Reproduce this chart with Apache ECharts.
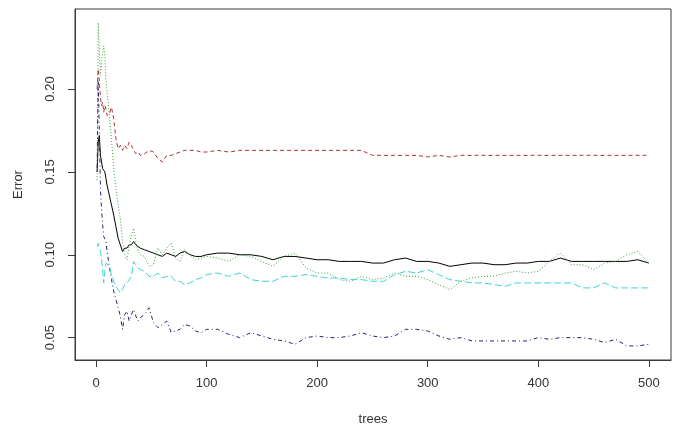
<!DOCTYPE html>
<html>
<head>
<meta charset="utf-8">
<title>Error vs trees</title>
<script src="https://cdn.jsdelivr.net/npm/echarts@6/dist/echarts.min.js"></script>
<style>
  html, body { margin: 0; padding: 0; background: #ffffff; }
  #errChart { width: 679px; height: 428px; }
</style>
</head>
<body>
<div id="errChart"></div>
<script>
  var trees = [1,2,3,4,5,6,7,8,9,10,12,14,16,18,20,22,24,26,28,30,32,34,36,38,40,
    44,48,52,56,60,64,68,72,76,80,85,90,95,100,
    110,120,130,140,150,160,170,180,190,200,210,220,230,240,250,260,270,280,290,300,
    310,320,330,340,350,360,370,380,390,400,410,420,430,440,450,460,470,480,490,500];

  // OOB error, black solid
  var oob = [0.150,0.168,0.172,0.160,0.156,0.152,0.152,0.150,0.146,0.142,0.136,0.130,0.124,0.117,0.110,0.106,0.102,0.104,0.104,0.106,0.106,0.108,0.106,0.105,0.104,
    0.103,0.102,0.101,0.100,0.099,0.101,0.100,0.099,0.101,0.102,0.100,0.099,0.099,0.100,
    0.101,0.101,0.100,0.100,0.099,0.097,0.099,0.099,0.098,0.097,0.097,0.096,0.096,0.096,0.095,0.095,0.097,0.098,0.096,0.096,
    0.095,0.093,0.094,0.095,0.095,0.094,0.094,0.095,0.095,0.096,0.096,0.098,0.096,0.096,0.096,0.096,0.096,0.096,0.097,0.095];

  // class 1, red dashed
  var cls1 = [0.200,0.212,0.205,0.195,0.190,0.192,0.186,0.190,0.188,0.184,0.185,0.189,0.182,0.170,0.164,0.166,0.163,0.166,0.164,0.168,0.166,0.163,0.161,0.162,0.160,
    0.161,0.163,0.162,0.158,0.156,0.160,0.160,0.161,0.162,0.163,0.163,0.163,0.162,0.162,
    0.163,0.162,0.163,0.163,0.163,0.163,0.163,0.163,0.163,0.163,0.163,0.163,0.163,0.163,0.160,0.160,0.160,0.160,0.160,0.159,
    0.160,0.159,0.160,0.160,0.160,0.160,0.160,0.160,0.160,0.160,0.160,0.160,0.160,0.160,0.160,0.160,0.160,0.160,0.160,0.160];

  // class 2, green dotted
  var cls2 = [0.145,0.240,0.225,0.208,0.215,0.222,0.226,0.220,0.205,0.198,0.185,0.170,0.152,0.140,0.130,0.122,0.108,0.100,0.097,0.105,0.112,0.116,0.108,0.102,0.100,
    0.099,0.093,0.094,0.104,0.100,0.104,0.107,0.098,0.096,0.103,0.100,0.097,0.098,0.099,
    0.098,0.096,0.100,0.099,0.096,0.093,0.099,0.101,0.092,0.089,0.089,0.085,0.084,0.087,0.085,0.086,0.089,0.087,0.087,0.085,
    0.082,0.079,0.084,0.086,0.087,0.087,0.089,0.090,0.089,0.090,0.096,0.101,0.094,0.094,0.091,0.095,0.096,0.100,0.102,0.095];

  // class 3, blue dot-dash
  var cls3 = [0.150,0.205,0.175,0.140,0.128,0.118,0.111,0.110,0.108,0.102,0.093,0.085,0.078,0.073,0.068,0.063,0.055,0.064,0.066,0.060,0.064,0.067,0.063,0.060,0.062,
    0.064,0.068,0.059,0.056,0.058,0.060,0.053,0.054,0.055,0.058,0.057,0.054,0.053,0.055,
    0.055,0.052,0.050,0.053,0.051,0.049,0.048,0.046,0.050,0.051,0.050,0.050,0.051,0.053,0.051,0.050,0.051,0.055,0.055,0.054,
    0.051,0.049,0.050,0.048,0.048,0.048,0.048,0.048,0.048,0.050,0.049,0.050,0.050,0.050,0.049,0.047,0.049,0.045,0.045,0.046];

  // class 4, cyan long dash
  var cls4 = [0.105,0.107,0.107,0.102,0.098,0.097,0.083,0.090,0.095,0.094,0.093,0.088,0.084,0.081,0.079,0.077,0.079,0.082,0.083,0.085,0.087,0.096,0.094,0.092,0.091,
    0.090,0.087,0.087,0.089,0.086,0.087,0.087,0.084,0.084,0.082,0.083,0.085,0.086,0.088,
    0.089,0.087,0.089,0.085,0.084,0.084,0.087,0.087,0.088,0.087,0.086,0.086,0.085,0.085,0.084,0.084,0.088,0.090,0.089,0.091,
    0.088,0.085,0.084,0.083,0.083,0.082,0.081,0.083,0.083,0.083,0.083,0.083,0.083,0.080,0.080,0.083,0.080,0.080,0.080,0.080];

  var xTicks = [0, 100, 200, 300, 400, 500];
  var yTicks = [0.05, 0.10, 0.15, 0.20];

  function pairs(vals) {
    var out = [];
    for (var i = 0; i < trees.length; i++) {
      out.push([trees[i], vals[i]]);
    }
    return out;
  }

  var chart = echarts.init(document.getElementById('errChart'));
  var font = '"Liberation Sans", Arial, sans-serif';
  var frame = '#3a3a3a';

  chart.setOption({
    animation: false,
    backgroundColor: '#ffffff',
    grid: {
      left: 75, right: 8, top: 9, bottom: 68,
      containLabel: false,
      outerBoundsMode: 'none',
      show: true,
      borderColor: frame,
      borderWidth: 1,
      backgroundColor: 'transparent'
    },
    xAxis: {
      type: 'value',
      min: -19,
      max: 520,
      name: 'trees',
      nameLocation: 'middle',
      nameGap: 53,
      nameTextStyle: { color: '#333', fontSize: 13, fontFamily: font },
      axisLine: { show: true, onZero: false, lineStyle: { color: frame, width: 1 } },
      splitLine: { show: false },
      axisTick: { show: true, inside: false, length: 7, customValues: xTicks, lineStyle: { color: frame } },
      axisLabel: { customValues: xTicks, margin: 17, color: '#333', fontSize: 13, fontFamily: font }
    },
    yAxis: {
      type: 'value',
      min: 0.0365,
      max: 0.2483,
      name: 'Error',
      nameLocation: 'middle',
      nameGap: 50,
      nameRotate: 90,
      nameTextStyle: { color: '#333', fontSize: 13, fontFamily: font },
      axisLine: { show: true, onZero: false, lineStyle: { color: frame, width: 1 } },
      splitLine: { show: false },
      axisTick: { show: true, inside: false, length: 7, customValues: yTicks, lineStyle: { color: frame } },
      axisLabel: {
        customValues: yTicks,
        rotate: 90,
        margin: 18,
        color: '#333',
        fontSize: 13,
        fontFamily: font,
        formatter: function (v) { return v.toFixed(2); }
      }
    },
    series: [
      { name: 'OOB', type: 'line', symbol: 'none', data: pairs(oob),
        lineStyle: { color: '#000000', width: 1, type: 'solid' } },
      { name: '1', type: 'line', symbol: 'none', data: pairs(cls1),
        lineStyle: { color: '#a83434', width: 1, type: [4, 3] } },
      { name: '2', type: 'line', symbol: 'none', data: pairs(cls2),
        lineStyle: { color: '#3f9f3f', width: 1, type: [1, 2] } },
      { name: '3', type: 'line', symbol: 'none', data: pairs(cls3),
        lineStyle: { color: '#25256e', width: 1, type: [1, 3, 4, 3] } },
      { name: '4', type: 'line', symbol: 'none', data: pairs(cls4),
        lineStyle: { color: '#3fd4d8', width: 1, type: [7, 3] } }
    ]
  });
</script>
</body>
</html>
